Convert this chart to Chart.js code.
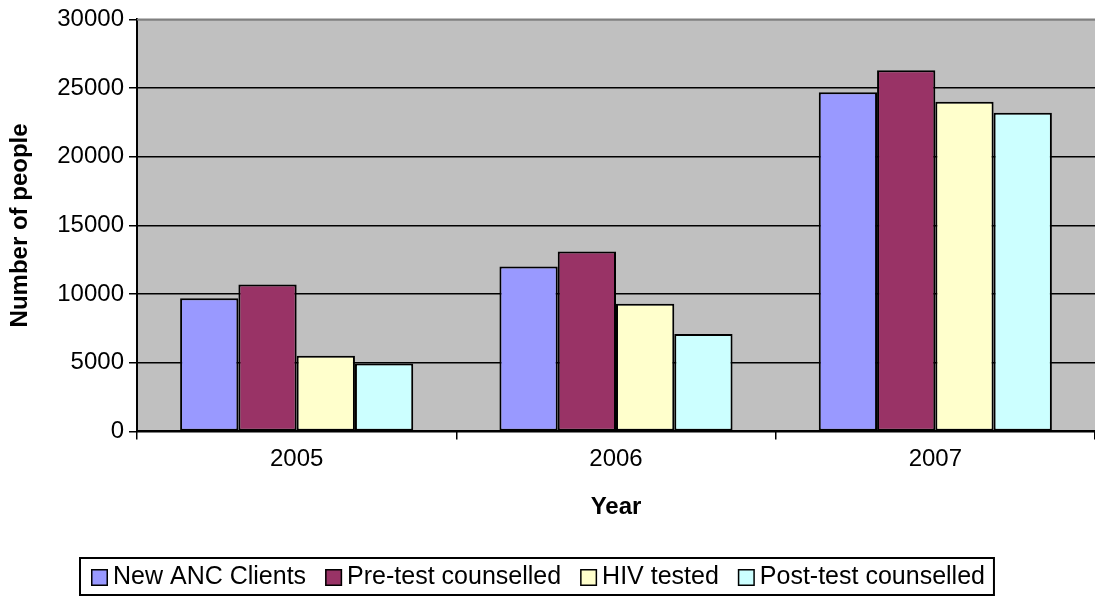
<!DOCTYPE html>
<html>
<head>
<meta charset="utf-8">
<script src="https://cdn.jsdelivr.net/npm/chart.js@4/dist/chart.umd.min.js"></script>
<style>
  html, body { margin: 0; padding: 0; background: #fff; }
  #wrap { width: 1095px; height: 604px; }
</style>
</head>
<body>
<div id="wrap"><canvas id="canvas-1" width="1095" height="604"></canvas></div>
<script>
// values
var years = ['2005', '2006', '2007'];
var newAncClients = [9700, 12000, 24700];
var preTestCounselled = [10700, 13100, 26300];
var hivTested = [5500, 9300, 24000];
var postTestCounselled = [4950, 7100, 23200];
var yTicks = [0, 5000, 10000, 15000, 20000, 25000, 30000];

var font = '"Liberation Sans", Arial, sans-serif';

// grey plot area + thin grey frame on top
var plotBg = {
    id: 'plotBg',
    beforeDraw: function (chart) {
        var a = chart.chartArea, ctx = chart.ctx;
        ctx.save();
        ctx.fillStyle = '#c0c0c0';
        ctx.fillRect(a.left, a.top, a.right - a.left, a.bottom - a.top);
        ctx.restore();
    },
    afterDatasetsDraw: function (chart) {
        var a = chart.chartArea, ctx = chart.ctx;
        ctx.save();
        ctx.strokeStyle = '#808080';
        ctx.lineWidth = 2;
        ctx.beginPath();
        ctx.moveTo(a.left, a.top);
        ctx.lineTo(a.right, a.top);
        ctx.stroke();
        ctx.restore();
    }
};

// boxed legend in the lower left, like the original
var boxLegend = {
    id: 'boxLegend',
    afterDraw: function (chart) {
        var ctx = chart.ctx;
        var left = 80, top = 558, h = 37;
        var padL = 11, padR = 9;
        var box = 17, gapBox = 5, gapItem = 19;
        ctx.save();
        ctx.font = '25px ' + font;
        ctx.textBaseline = 'middle';
        var ds = chart.data.datasets;
        var total = 0;
        ds.forEach(function (d, i) {
            total += box + gapBox + ctx.measureText(d.label).width;
            if (i < ds.length - 1) total += gapItem;
        });
        var w = padL + total + padR;
        ctx.fillStyle = '#fff';
        ctx.fillRect(left, top, w, h);
        ctx.strokeStyle = '#000';
        ctx.lineWidth = 2;
        ctx.strokeRect(left, top, w, h);
        var x = left + padL;
        var cy = top + h / 2 + 1;
        ds.forEach(function (d) {
            ctx.fillStyle = d.backgroundColor;
            ctx.fillRect(x, cy - box / 2, box, box);
            ctx.lineWidth = 1.5;
            ctx.strokeStyle = '#000';
            ctx.strokeRect(x + 0.75, cy - box / 2 + 0.75, box - 1.5, box - 1.5);
            x += box + gapBox;
            ctx.fillStyle = '#000';
            ctx.fillText(d.label, x, cy);
            x += ctx.measureText(d.label).width + gapItem;
        });
        ctx.restore();
    }
};

var barChartData = {
    labels: years,
    datasets: [
        { label: 'New ANC Clients', backgroundColor: '#9999ff', data: newAncClients },
        { label: 'Pre-test counselled', backgroundColor: '#993366', data: preTestCounselled },
        { label: 'HIV tested', backgroundColor: '#ffffcc', data: hivTested },
        { label: 'Post-test counselled', backgroundColor: '#ccffff', data: postTestCounselled }
    ]
};
barChartData.datasets.forEach(function (d) {
    d.borderColor = '#000';
    d.borderWidth = 2;
    d.borderSkipped = false;
    d.categoryPercentage = 0.73;
    d.barPercentage = 1.0;
});

var ctx = document.getElementById('canvas-1');
var chart = new Chart(ctx, {
    type: 'bar',
    data: barChartData,
    plugins: [plotBg, boxLegend],
    options: {
        responsive: false,
        animation: false,
        layout: { padding: { left: 6, top: 18, right: 0, bottom: 82 } },
        plugins: {
            legend: { display: false },
            tooltip: { enabled: false }
        },
        scales: {
            x: {
                grid: {
                    offset: true,
                    drawOnChartArea: false,
                    drawTicks: true,
                    tickLength: 8,
                    color: '#000',
                    lineWidth: 1.5
                },
                border: { color: '#000', width: 2 },
                ticks: {
                    color: '#000',
                    padding: 6,
                    font: { family: font, size: 24 }
                },
                title: {
                    display: true,
                    text: 'Year',
                    color: '#000',
                    padding: { top: 13, bottom: 0 },
                    font: { family: font, size: 24, weight: 'bold' }
                }
            },
            y: {
                min: 0,
                max: 30000,
                afterBuildTicks: function (scale) {
                    scale.ticks = yTicks.map(function (v) { return { value: v }; });
                },
                afterFit: function (scale) { scale.width = 131; },
                grid: {
                    color: function (c) { return c.tick && c.tick.value === 30000 ? '#808080' : '#000'; },
                    tickColor: '#000',
                    lineWidth: 1.5,
                    tickLength: 8
                },
                border: { color: '#000', width: 2 },
                ticks: {
                    color: '#000',
                    padding: 5,
                    font: { family: font, size: 24 },
                    callback: function (v) { return String(v); }
                },
                title: {
                    display: true,
                    text: 'Number of people',
                    color: '#000',
                    padding: 0,
                    font: { family: font, size: 24, weight: 'bold' }
                }
            }
        }
    }
});
</script>
</body>
</html>
